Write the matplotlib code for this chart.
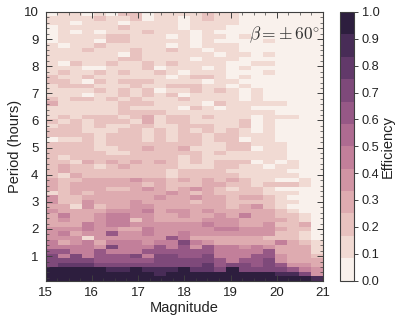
import numpy as np
import matplotlib
matplotlib.use("Agg")
import matplotlib.pyplot as plt
import seaborn as sns
from matplotlib.colors import ListedColormap

plt.rcParams['font.family'] = ['Liberation Sans', 'DejaVu Sans']
plt.rcParams['mathtext.fontset'] = 'cm'

# efficiency class of each cell (twelfths), top row of the plot first
eff_levels = [
    [0,1,1,0,1,0,2,2,0,1,1,1,1,2,1,1,0,0,0,0,0,0,0],
    [1,1,1,1,2,1,1,2,0,1,1,0,1,2,1,1,0,0,0,0,0,0,0],
    [1,1,0,1,1,1,0,1,1,1,1,0,1,1,1,1,0,0,0,0,0,0,0],
    [0,1,1,1,1,1,2,1,1,1,1,0,1,1,1,0,0,0,0,0,0,0,0],
    [0,1,0,1,0,1,1,1,2,1,1,1,0,1,0,0,0,0,0,0,0,0,0],
    [0,1,1,1,1,2,2,1,1,1,0,1,0,1,1,0,1,0,0,0,0,0,0],
    [0,1,1,1,0,2,2,1,1,1,1,1,0,1,0,0,0,0,1,0,0,0,0],
    [1,0,1,1,2,1,1,1,1,1,0,1,0,1,1,1,0,0,0,0,0,0,0],
    [1,1,1,2,1,1,1,2,1,1,2,1,1,0,1,1,0,0,0,0,0,0,0],
    [1,1,1,1,1,1,0,2,1,1,1,1,1,1,0,1,1,0,1,0,0,0,0],
    [1,1,1,1,1,1,2,2,1,1,1,1,0,1,1,1,0,0,0,0,0,0,0],
    [1,0,2,1,1,2,1,1,2,1,2,1,1,1,1,0,0,1,1,0,0,0,0],
    [1,1,1,0,0,1,1,1,2,0,1,1,1,0,1,0,1,0,0,0,0,0,0],
    [1,2,1,1,2,1,2,1,1,2,1,0,1,1,1,0,0,0,1,0,0,0,0],
    [2,1,1,2,1,1,1,1,1,1,0,1,2,2,1,0,1,0,0,0,0,0,0],
    [2,2,1,0,2,1,2,2,2,1,1,1,1,0,1,1,0,0,0,0,0,0,0],
    [1,2,2,2,1,1,1,2,1,1,2,2,2,1,1,0,1,0,0,0,0,0,0],
    [1,1,1,1,2,1,2,1,2,0,1,1,2,1,2,1,0,1,0,0,0,0,0],
    [1,1,1,0,1,1,2,1,2,1,2,0,1,1,1,1,0,1,0,0,0,0,0],
    [2,1,2,2,1,2,1,2,1,1,1,2,1,1,1,1,0,1,0,0,0,0,0],
    [3,1,1,1,1,1,2,2,2,1,1,1,1,0,2,1,1,1,1,1,0,0,0],
    [1,1,1,1,1,1,2,1,1,1,1,0,2,1,0,1,1,0,0,0,0,0,0],
    [1,1,1,1,1,1,2,2,2,2,1,1,1,1,1,1,1,1,1,0,0,0,0],
    [1,2,1,2,2,2,1,2,3,1,2,2,1,2,1,1,1,0,1,1,1,0,0],
    [2,1,2,1,2,2,2,1,3,1,2,2,1,1,1,1,2,0,1,0,0,0,0],
    [1,2,2,1,2,1,1,2,2,1,1,2,2,2,1,1,2,0,1,0,0,0,0],
    [2,2,2,1,1,1,2,2,1,2,1,2,1,2,1,2,1,0,1,0,0,0,0],
    [2,2,2,2,1,2,2,2,1,2,1,2,2,1,2,2,1,1,1,0,0,0,0],
    [0,1,1,2,1,2,2,2,1,2,1,2,2,1,2,2,0,1,1,0,0,0,0],
    [2,2,2,2,1,2,2,2,2,2,2,2,2,1,1,2,2,1,1,1,0,0,0],
    [2,2,2,2,1,1,2,2,3,2,2,3,1,1,1,2,2,0,1,1,0,0,0],
    [2,2,2,2,2,1,1,2,2,2,2,2,2,1,2,1,1,1,1,1,0,0,0],
    [2,1,2,2,2,2,2,2,2,2,2,1,2,1,1,1,1,1,1,1,0,0,0],
    [2,2,1,3,2,3,2,3,2,3,2,1,2,1,2,2,2,0,1,0,1,0,0],
    [2,3,2,2,1,2,3,2,2,2,2,1,1,1,2,2,1,1,0,1,1,0,0],
    [2,3,2,2,2,2,2,2,2,2,1,2,2,2,2,1,1,1,1,1,0,0,0],
    [2,1,3,2,2,2,2,2,2,2,1,2,2,2,2,2,1,1,1,1,1,0,0],
    [3,2,2,3,3,3,3,4,3,3,2,3,2,3,2,3,2,1,1,0,0,1,0],
    [3,2,3,3,3,3,3,3,2,3,2,2,2,3,3,2,2,1,2,2,2,1,0],
    [3,2,3,3,3,2,2,3,4,3,2,3,4,3,2,1,2,2,1,0,0,0,0],
    [1,2,3,2,3,3,3,3,3,3,4,3,2,3,2,2,2,2,1,1,1,0,0],
    [4,2,2,3,3,3,3,3,3,4,3,3,4,3,3,2,3,3,2,1,0,0,0],
    [4,2,2,4,3,3,3,4,3,3,3,3,2,3,3,2,2,2,2,1,1,0,0],
    [3,3,1,4,2,3,3,4,4,3,3,3,3,3,3,2,3,4,2,1,0,0,0],
    [4,3,3,3,3,4,4,4,5,3,4,4,3,4,3,3,3,3,3,2,1,0,0],
    [3,5,3,3,4,5,5,4,4,3,3,4,3,3,4,3,5,3,3,2,2,1,0],
    [3,4,3,3,4,5,5,2,4,3,3,3,3,4,4,4,3,3,3,3,2,1,0],
    [3,3,3,5,4,5,5,4,4,4,4,4,4,5,4,4,3,3,4,2,2,3,0],
    [4,4,4,5,4,4,3,3,5,4,4,4,4,4,5,5,4,4,4,3,2,2,0],
    [4,5,3,4,4,7,4,4,5,4,4,5,4,4,4,4,4,4,4,2,2,1,0],
    [4,4,4,1,4,4,4,4,4,4,7,5,3,3,3,3,3,3,2,2,2,1,0],
    [5,3,4,5,3,5,5,5,4,5,5,8,5,4,3,3,3,3,3,5,3,2,1],
    [5,5,5,5,4,8,5,5,5,7,5,7,4,7,5,5,4,5,4,3,3,3,1],
    [7,7,5,5,7,5,5,5,7,7,7,7,7,7,5,5,5,5,7,3,3,3,1],
    [8,5,8,5,7,7,7,8,5,8,8,7,7,8,5,5,5,7,7,4,3,3,2],
    [8,8,8,8,7,7,7,7,7,8,8,8,8,8,7,5,7,7,8,4,3,3,3],
    [8,9,9,9,8,8,8,8,8,8,8,8,8,9,7,8,8,7,8,7,4,4,3],
    [11,11,11,11,11,10,10,11,10,10,10,11,9,9,8,11,8,8,8,8,7,5,4],
    [11,11,11,11,11,11,11,11,11,10,11,11,11,11,11,11,11,11,11,10,10,8,4],
    [11,11,11,11,11,11,11,11,11,11,11,11,11,11,11,11,11,11,11,11,11,11,10],
]

mag_edges = np.linspace(15, 21, 24)
period_edges = np.linspace(0.1, 10, 61)
mag_ticks = [15, 16, 17, 18, 19, 20, 21]
period_ticks = [1, 2, 3, 4, 5, 6, 7, 8, 9, 10]
cbar_ticks = [0.0, 0.1, 0.2, 0.3, 0.4, 0.5, 0.6, 0.7, 0.8, 0.9, 1.0]

eff = (np.array(eff_levels)[::-1] + 0.5) / 12.0

edge_col = '#3f3f3f'
cmap = ListedColormap(sns.cubehelix_palette(12, light=.95, dark=.15))

fig = plt.figure(figsize=(4.07, 3.24), dpi=100)
ax = fig.add_axes([45.5 / 407, 1 - 280.5 / 324, 277.5 / 407, 268.5 / 324])
mesh = ax.pcolormesh(mag_edges, period_edges, eff, cmap=cmap, vmin=0, vmax=1)
ax.set_xlim(15, 21)
ax.set_ylim(0.1, 10)
ax.set_xticks(mag_ticks)
ax.set_yticks(period_ticks)
ax.set_xticks(np.arange(15, 21.01, 0.25), minor=True)
ax.set_yticks(np.arange(0.2, 10.01, 0.2), minor=True)
ax.tick_params(which='major', direction='in', top=True, right=True, length=4, width=0.7,
               color=edge_col, labelsize=9.5, labelcolor='#222222', pad=5)
ax.tick_params(which='minor', direction='in', top=True, right=True, length=2, width=0.5, color=edge_col)
for s in ax.spines.values():
    s.set_color(edge_col)
    s.set_linewidth(0.8)
ax.set_xlabel('Magnitude', fontsize=10.5, labelpad=1, color='#222222')
ax.set_ylabel('Period (hours)', fontsize=10.5, labelpad=1.5, color='#222222')
ax.text(0.99, 0.955, r'$\beta = \pm\,60^{\circ}$', transform=ax.transAxes, ha='right', va='top',
        fontsize=12.5, color='#333333')

cax = fig.add_axes([340 / 407, 1 - 280.5 / 324, 13.5 / 407, 268.5 / 324])
cb = fig.colorbar(mesh, cax=cax, ticks=cbar_ticks)
cb.ax.tick_params(length=3, width=0.7, color=edge_col, labelsize=9.2, labelcolor='#222222', pad=3)
cb.outline.set_edgecolor(edge_col)
cb.outline.set_linewidth(0.8)
cb.set_label('Efficiency', fontsize=10.5, labelpad=0.5, color='#222222')

fig.savefig('out.png', dpi=100)
